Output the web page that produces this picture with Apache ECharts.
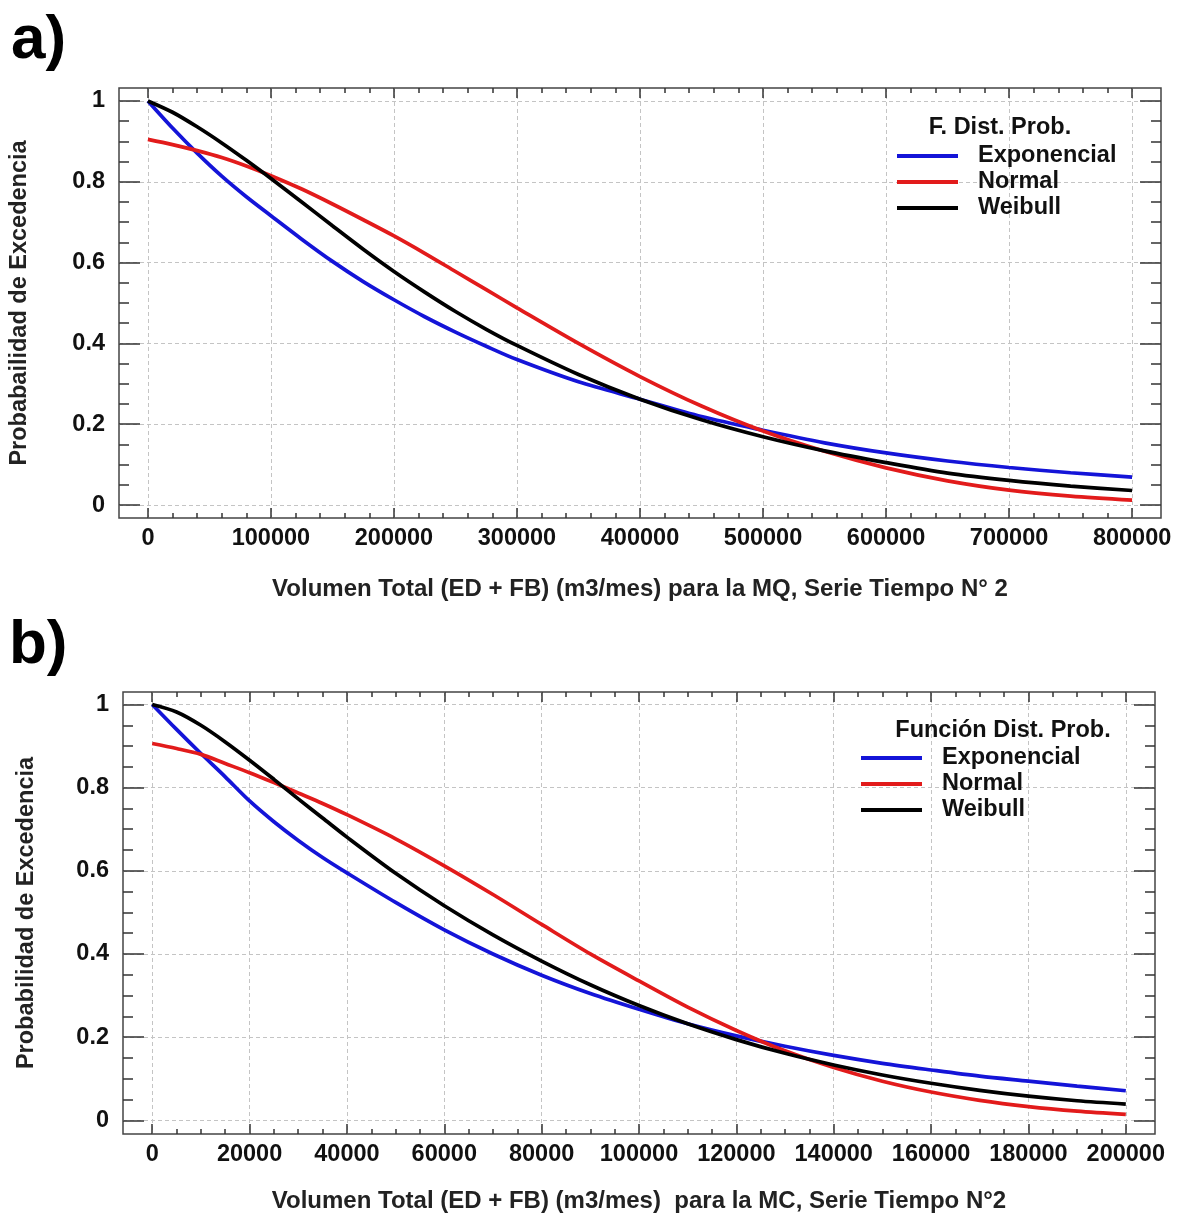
<!DOCTYPE html>
<html>
<head>
<meta charset="utf-8">
<script src="https://cdn.jsdelivr.net/npm/echarts@6/dist/echarts.min.js"></script>
<style>
html,body{margin:0;padding:0;background:#fff;}
#chart{width:1179px;height:1215px;}
</style>
</head>
<body>
<div id="chart"></div>
<script>
// ---------- Panel a (MQ) ----------
const xA = [0, 20000, 40000, 60000, 80000, 100000, 125000, 150000, 175000, 200000, 225000, 250000, 275000, 300000, 350000, 400000, 450000, 500000, 550000, 600000, 650000, 700000, 750000, 800000];
const expA = [1.0, 0.933, 0.871, 0.814, 0.763, 0.716, 0.658, 0.603, 0.553, 0.508, 0.466, 0.428, 0.393, 0.360, 0.305, 0.262, 0.219, 0.185, 0.154, 0.129, 0.109, 0.093, 0.080, 0.069];
const normA = [0.905, 0.892, 0.877, 0.860, 0.839, 0.815, 0.782, 0.745, 0.706, 0.666, 0.623, 0.578, 0.533, 0.488, 0.400, 0.318, 0.245, 0.183, 0.133, 0.092, 0.060, 0.037, 0.022, 0.012];
const weibA = [1.0, 0.972, 0.936, 0.896, 0.853, 0.808, 0.750, 0.691, 0.633, 0.578, 0.527, 0.479, 0.435, 0.395, 0.323, 0.262, 0.211, 0.169, 0.134, 0.105, 0.079, 0.061, 0.047, 0.036];

// ---------- Panel b (MC) ----------
const xB = [0, 5000, 10000, 15000, 20000, 25000, 30000, 35000, 40000, 50000, 60000, 70000, 80000, 90000, 100000, 110000, 120000, 130000, 140000, 150000, 160000, 170000, 180000, 190000, 200000];
const expB = [1.0, 0.940, 0.882, 0.826, 0.768, 0.718, 0.673, 0.632, 0.595, 0.524, 0.458, 0.400, 0.349, 0.305, 0.267, 0.232, 0.203, 0.178, 0.156, 0.137, 0.121, 0.106, 0.094, 0.082, 0.071];
const normB = [0.906, 0.894, 0.880, 0.858, 0.836, 0.812, 0.787, 0.762, 0.735, 0.677, 0.612, 0.543, 0.471, 0.400, 0.335, 0.272, 0.216, 0.167, 0.127, 0.094, 0.068, 0.048, 0.033, 0.022, 0.014];
const weibB = [1.0, 0.982, 0.950, 0.910, 0.866, 0.820, 0.773, 0.727, 0.681, 0.594, 0.516, 0.446, 0.383, 0.326, 0.276, 0.232, 0.194, 0.161, 0.133, 0.109, 0.089, 0.072, 0.058, 0.047, 0.039];

// ---------- Ticks ----------
const xTicksA = [0, 100000, 200000, 300000, 400000, 500000, 600000, 700000, 800000];
const xTicksB = [0, 20000, 40000, 60000, 80000, 100000, 120000, 140000, 160000, 180000, 200000];
const yTicks = [0, 0.2, 0.4, 0.6, 0.8, 1];
const seriesNames = ['Exponencial', 'Normal', 'Weibull'];

function steps(from, to, step) { const r = []; for (let v = from; v <= to + 1e-9; v += step) r.push(+v.toFixed(6)); return r; }
const xMinorA = steps(0, 800000, 20000);
const xMinorB = steps(0, 200000, 5000);
const yMinor = steps(0, 1, 0.05);

const FONT = "'Liberation Sans', Arial, sans-serif";
const TXT = '#111';
const tickLine = { color: '#333', width: 1.5 };
const gridLine = { color: '#c4c4c4', type: [4, 3], width: 1 };
const colors = ['#1414d8', '#e21b1b', '#000000'];

function xAxes(g, min, max, majors, minors, name, nameGap) {
  const base = { type: 'value', gridIndex: g, min: min, max: max, axisLine: { show: false, onZero: false } };
  return [
    Object.assign({}, base, {
      position: 'bottom',
      axisTick: { show: true, inside: true, length: 10, customValues: majors, lineStyle: tickLine },
      axisLabel: { show: true, customValues: majors, formatter: v => String(v), margin: 9,
        fontSize: 23.5, fontWeight: 'bold', color: TXT, fontFamily: FONT },
      splitLine: { show: true, lineStyle: gridLine },
      name: name, nameLocation: 'middle', nameGap: nameGap,
      nameTextStyle: { fontSize: 24, fontWeight: 'bold', color: '#222', fontFamily: FONT }
    }),
    Object.assign({}, base, {
      position: 'bottom',
      axisTick: { show: true, inside: true, length: 5, customValues: minors, lineStyle: tickLine },
      axisLabel: { show: false }, splitLine: { show: false }
    }),
    Object.assign({}, base, {
      position: 'top',
      axisTick: { show: true, inside: true, length: 10, customValues: majors, lineStyle: tickLine },
      axisLabel: { show: false }, splitLine: { show: false }
    }),
    Object.assign({}, base, {
      position: 'top',
      axisTick: { show: true, inside: true, length: 5, customValues: minors, lineStyle: tickLine },
      axisLabel: { show: false }, splitLine: { show: false }
    })
  ];
}
function yAxes(g, min, max, name, nameGap) {
  const base = { type: 'value', gridIndex: g, min: min, max: max, axisLine: { show: false, onZero: false } };
  return [
    Object.assign({}, base, {
      position: 'left',
      axisTick: { show: true, inside: true, length: 21, customValues: yTicks, lineStyle: tickLine },
      axisLabel: { show: true, customValues: yTicks, formatter: v => String(v), margin: 14,
        fontSize: 23.5, fontWeight: 'bold', color: TXT, fontFamily: FONT },
      splitLine: { show: true, lineStyle: gridLine },
      name: name, nameLocation: 'middle', nameGap: nameGap, nameRotate: 90,
      nameTextStyle: { fontSize: 23.5, fontWeight: 'bold', color: '#222', fontFamily: FONT }
    }),
    Object.assign({}, base, {
      position: 'left',
      axisTick: { show: true, inside: true, length: 10, customValues: yMinor, lineStyle: tickLine },
      axisLabel: { show: false }, splitLine: { show: false }
    }),
    Object.assign({}, base, {
      position: 'right',
      axisTick: { show: true, inside: true, length: 21, customValues: yTicks, lineStyle: tickLine },
      axisLabel: { show: false }, splitLine: { show: false }
    }),
    Object.assign({}, base, {
      position: 'right',
      axisTick: { show: true, inside: true, length: 10, customValues: yMinor, lineStyle: tickLine },
      axisLabel: { show: false }, splitLine: { show: false }
    })
  ];
}

function mkSeries(xs, ys, idx, axisIdx) {
  return {
    type: 'line', name: seriesNames[idx],
    xAxisIndex: axisIdx, yAxisIndex: axisIdx,
    data: xs.map((x, i) => [x, ys[i]]),
    showSymbol: false, symbol: 'none', smooth: 0.3,
    lineStyle: { color: colors[idx], width: 3.7 },
    itemStyle: { color: colors[idx] },
    z: 3 + idx
  };
}

const legendText = { fontSize: 23.5, fontWeight: 'bold', color: TXT, fontFamily: FONT, lineHeight: 26, padding: [0, 0, 0, 15] };

const option = {
  animation: false,
  backgroundColor: '#fff',
  grid: [
    { left: 117, top: 88, width: 1044, height: 430, show: true, borderColor: '#444', borderWidth: 1.5, backgroundColor: 'transparent' },
    { left: 123, top: 692, width: 1032, height: 442, show: true, borderColor: '#444', borderWidth: 1.5, backgroundColor: 'transparent' }
  ],
  xAxis: [].concat(
    xAxes(0, -23500, 823500, xTicksA, xMinorA, 'Volumen Total (ED + FB) (m3/mes) para la MQ, Serie Tiempo N° 2', 59),
    xAxes(1, -6000, 206000, xTicksB, xMinorB, 'Volumen Total (ED + FB) (m3/mes)  para la MC, Serie Tiempo N°2', 55)
  ),
  yAxis: [].concat(
    yAxes(0, -0.032, 1.032, 'Probabailidad de Excedencia', 87),
    yAxes(1, -0.033, 1.03, 'Probabilidad de Excedencia', 84)
  ),
  legend: [
    { data: seriesNames, orient: 'vertical', left: 897, top: 143, icon: 'rect', itemWidth: 61, itemHeight: 4,
      itemGap: 0, selectedMode: false, textStyle: legendText, padding: 0 },
    { data: seriesNames, orient: 'vertical', left: 861, top: 745, icon: 'rect', itemWidth: 61, itemHeight: 4,
      itemGap: 0, selectedMode: false, textStyle: legendText, padding: 0 }
  ],
  graphic: [
    { type: 'text', x: 11, y: 10, style: { text: 'a)', fontSize: 62, fontWeight: 'bold', fontFamily: FONT, fill: '#000' } },
    { type: 'text', x: 9, y: 615, style: { text: 'b)', fontSize: 62, fontWeight: 'bold', fontFamily: FONT, fill: '#000' } },
    { type: 'text', x: 1000, y: 128, style: { text: 'F. Dist. Prob.', fontSize: 23.5, fontWeight: 'bold', fontFamily: FONT, fill: TXT, align: 'center', verticalAlign: 'middle' } },
    { type: 'text', x: 1003, y: 731, style: { text: 'Función Dist. Prob.', fontSize: 23.5, fontWeight: 'bold', fontFamily: FONT, fill: TXT, align: 'center', verticalAlign: 'middle' } }
  ],
  series: [
    mkSeries(xA, expA, 0, 0), mkSeries(xA, normA, 1, 0), mkSeries(xA, weibA, 2, 0),
    mkSeries(xB, expB, 0, 4), mkSeries(xB, normB, 1, 4), mkSeries(xB, weibB, 2, 4)
  ]
};

const chart = echarts.init(document.getElementById('chart'), null, { renderer: 'canvas' });
chart.setOption(option);
</script>
</body>
</html>
